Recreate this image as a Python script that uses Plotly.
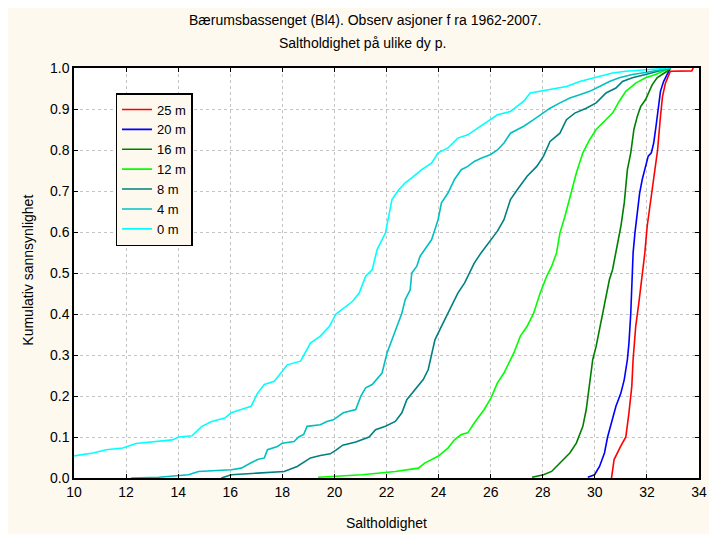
import plotly.graph_objects as go

# salinity (x) and cumulative probability (y) for each depth
sal_25m = [30.64, 30.74, 30.99, 31.19, 31.31, 31.42, 31.47, 31.57, 31.69, 31.82, 31.92, 32.01,
           32.10, 32.20, 32.30, 32.41, 32.52, 32.60, 32.71, 32.83, 32.90, 33.72, 33.78]
cum_25m = [0.0, 0.045, 0.077, 0.10, 0.159, 0.224, 0.289, 0.37, 0.427, 0.49, 0.549, 0.614,
           0.654, 0.695, 0.744, 0.80, 0.882, 0.931, 0.963, 0.984, 0.992, 0.993, 1.0]

sal_20m = [29.73, 29.99, 30.18, 30.37, 30.49, 30.68, 30.81, 31.0, 31.13, 31.25, 31.31, 31.38,
           31.42, 31.47, 31.54, 31.63, 31.72, 31.82, 31.92, 32.05, 32.17, 32.26, 32.35, 32.43,
           32.52, 32.64, 32.77, 32.9]
cum_20m = [0.002, 0.008, 0.028, 0.061, 0.10, 0.146, 0.175, 0.207, 0.24, 0.289, 0.329, 0.402,
           0.492, 0.549, 0.598, 0.654, 0.695, 0.728, 0.752, 0.785, 0.793, 0.817, 0.858, 0.906,
           0.943, 0.967, 0.984, 1.0]

sal_16m = [27.59, 28.03, 28.34, 28.66, 29.04, 29.29, 29.54, 29.67, 29.80, 29.92, 30.05, 30.18,
           30.30, 30.43, 30.56, 30.68, 30.81, 31.0, 31.13, 31.19, 31.25, 31.38, 31.50, 31.63,
           31.76, 31.95, 32.07, 32.20, 32.39, 32.58, 32.77, 32.9]
cum_16m = [0.002, 0.008, 0.016, 0.037, 0.061, 0.085, 0.126, 0.167, 0.232, 0.289, 0.321, 0.362,
           0.402, 0.443, 0.484, 0.508, 0.549, 0.614, 0.671, 0.711, 0.752, 0.793, 0.85, 0.882,
           0.906, 0.923, 0.939, 0.959, 0.976, 0.984, 0.992, 1.0]

sal_12m = [19.37, 21.07, 22.34, 23.22, 23.48, 23.98, 24.36, 24.61, 24.87, 25.12, 25.37, 25.75,
           26.01, 26.26, 26.51, 26.89, 27.14, 27.40, 27.65, 27.90, 28.15, 28.34, 28.53, 28.66,
           28.85, 29.04, 29.29, 29.54, 29.80, 30.05, 30.37, 30.68, 30.94, 31.19, 31.57, 31.95,
           32.33, 32.64, 32.9]
cum_12m = [0.002, 0.008, 0.016, 0.024, 0.037, 0.053, 0.073, 0.093, 0.106, 0.11, 0.134, 0.167,
           0.195, 0.232, 0.256, 0.305, 0.346, 0.37, 0.402, 0.451, 0.492, 0.516, 0.549, 0.598,
           0.638, 0.687, 0.744, 0.793, 0.825, 0.85, 0.87, 0.89, 0.919, 0.943, 0.963, 0.976,
           0.984, 0.992, 1.0]

sal_8m = [15.66, 16.04, 17.05, 18.07, 18.57, 18.82, 19.08, 19.46, 19.84, 20.06, 20.32, 20.82,
          21.33, 21.58, 21.96, 22.34, 22.59, 22.78, 23.10, 23.41, 23.60, 23.73, 23.86, 24.11,
          24.30, 24.49, 24.74, 25.0, 25.18, 25.37, 25.63, 26.0, 26.26, 26.51, 26.76, 27.02,
          27.40, 27.77, 28.03, 28.28, 28.66, 28.91, 29.23, 29.67, 30.05, 30.43, 30.81, 31.06,
          31.44, 31.95, 32.45, 32.9]
cum_8m = [0.0, 0.008, 0.012, 0.016, 0.028, 0.039, 0.049, 0.055, 0.059, 0.068, 0.08, 0.088,
          0.10, 0.118, 0.126, 0.138, 0.159, 0.191, 0.215, 0.24, 0.264, 0.305, 0.337, 0.37,
          0.394, 0.419, 0.451, 0.476, 0.50, 0.524, 0.549, 0.581, 0.602, 0.63, 0.679, 0.703,
          0.736, 0.76, 0.785, 0.821, 0.841, 0.874, 0.89, 0.902, 0.915, 0.939, 0.951, 0.967,
          0.976, 0.984, 0.992, 1.0]

sal_4m = [12.19, 13.26, 14.40, 14.78, 16.04, 16.42, 16.80, 17.05, 17.31, 17.43, 17.81, 18.0,
          18.45, 18.63, 18.82, 18.95, 19.46, 19.71, 19.96, 20.34, 20.82, 21.01, 21.20, 21.45,
          21.83, 22.02, 22.21, 22.40, 22.59, 22.72, 22.91, 22.97, 23.16, 23.29, 23.54, 23.73,
          23.86, 23.98, 24.11, 24.36, 24.61, 24.87, 25.12, 25.37, 25.63, 26.0, 26.26, 26.51,
          26.76, 27.27, 27.65, 28.03, 28.28, 28.66, 29.04, 29.42, 29.80, 30.18, 30.56, 30.94,
          31.44, 31.95, 32.45, 32.9]
cum_4m = [0.0, 0.002, 0.008, 0.016, 0.02, 0.024, 0.037, 0.045, 0.049, 0.069, 0.077, 0.085,
          0.089, 0.10, 0.106, 0.126, 0.13, 0.138, 0.142, 0.159, 0.167, 0.199, 0.22, 0.228,
          0.256, 0.305, 0.337, 0.37, 0.402, 0.435, 0.459, 0.50, 0.516, 0.541, 0.565, 0.581,
          0.606, 0.63, 0.671, 0.695, 0.728, 0.752, 0.76, 0.772, 0.78, 0.789, 0.80, 0.817,
          0.841, 0.858, 0.874, 0.89, 0.902, 0.915, 0.927, 0.935, 0.943, 0.955, 0.967, 0.976,
          0.984, 0.989, 0.994, 1.0]

sal_0m = [10.0, 10.73, 11.24, 11.87, 12.38, 13.14, 13.77, 14.02, 14.53, 14.91, 15.29, 15.79,
          16.04, 16.42, 16.80, 17.05, 17.31, 17.69, 17.94, 18.19, 18.70, 19.08, 19.46, 19.81,
          20.06, 20.44, 20.70, 20.95, 21.20, 21.45, 21.64, 21.96, 22.21, 22.47, 22.72, 22.97,
          23.35, 23.73, 23.98, 24.36, 24.74, 25.12, 25.63, 26.0, 26.26, 26.76, 27.27, 27.52,
          28.15, 28.91, 29.42, 29.92, 30.68, 31.19, 31.95, 32.9]
cum_0m = [0.054, 0.061, 0.069, 0.073, 0.084, 0.089, 0.093, 0.10, 0.103, 0.126, 0.138, 0.146,
          0.159, 0.167, 0.175, 0.207, 0.228, 0.236, 0.256, 0.276, 0.285, 0.329, 0.346, 0.37,
          0.40, 0.419, 0.431, 0.451, 0.492, 0.508, 0.557, 0.598, 0.679, 0.703, 0.72, 0.732,
          0.752, 0.768, 0.793, 0.805, 0.829, 0.837, 0.858, 0.874, 0.886, 0.894, 0.919, 0.939,
          0.947, 0.955, 0.967, 0.976, 0.988, 0.992, 0.996, 1.0]

depth_names = ["25 m", "20 m", "16 m", "12 m", "8 m", "4 m", "0 m"]
depth_colors = ["#FF0000", "#0000FF", "#008000", "#00FF00", "#008080", "#00C0C0", "#00FFFF"]

series = [
    (sal_25m, cum_25m),
    (sal_20m, cum_20m),
    (sal_16m, cum_16m),
    (sal_12m, cum_12m),
    (sal_8m, cum_8m),
    (sal_4m, cum_4m),
    (sal_0m, cum_0m),
]

FONT = "Liberation Sans, Arial, sans-serif"
CREAM = "#FDF9EF"

fig = go.Figure()

for (x, y), name, color in zip(series, depth_names, depth_colors):
    fig.add_trace(
        go.Scatter(
            x=x,
            y=y,
            mode="lines",
            name=name,
            line=dict(color=color, width=1.6),
        )
    )

axis_style = dict(
    showline=True,
    linecolor="black",
    linewidth=1.5,
    mirror="ticks",
    ticks="inside",
    ticklen=4,
    tickcolor="black",
    showgrid=True,
    gridcolor="#C4C4C4",
    griddash="dot",
    gridwidth=1,
    zeroline=False,
    tickfont=dict(family=FONT, size=14, color="black"),
)

fig.update_xaxes(range=[10, 34], dtick=2, tick0=10, **axis_style)
fig.update_yaxes(range=[0, 1], dtick=0.1, tick0=0, tickformat=".1f", **axis_style)

# the page has the browser's 8px body margin, so the figure is a bit smaller than the window
fig.update_layout(
    width=709,
    height=526,
    margin=dict(l=66, r=10, t=60, b=56),
    paper_bgcolor=CREAM,
    plot_bgcolor="white",
    font=dict(family=FONT, size=14, color="black"),
    showlegend=True,
    legend=dict(
        x=0.0664,
        y=0.939,
        xanchor="left",
        yanchor="top",
        bgcolor=CREAM,
        bordercolor="black",
        borderwidth=1.5,
        font=dict(family=FONT, size=13, color="black"),
        tracegroupgap=0,
    ),
    annotations=[
        dict(text="Bærumsbassenget (Bl4). Observ asjoner f ra 1962-2007.", x=0.466, y=1.117,
             xref="paper", yref="paper", xanchor="center", yanchor="middle",
             showarrow=False, font=dict(size=14)),
        dict(text="Saltholdighet på ulike dy p.", x=0.461, y=1.061,
             xref="paper", yref="paper", xanchor="center", yanchor="middle",
             showarrow=False, font=dict(size=14)),
        dict(text="Saltholdighet", x=0.5, y=-0.11, xref="paper", yref="paper",
             xanchor="center", yanchor="middle", showarrow=False, font=dict(size=14)),
        dict(text="Kumulativ sannsynlighet", x=-0.0727, y=0.507, xref="paper", yref="paper",
             xanchor="center", yanchor="middle", showarrow=False, textangle=-90,
             font=dict(size=14)),
    ],
)

fig.write_html("out.html")
